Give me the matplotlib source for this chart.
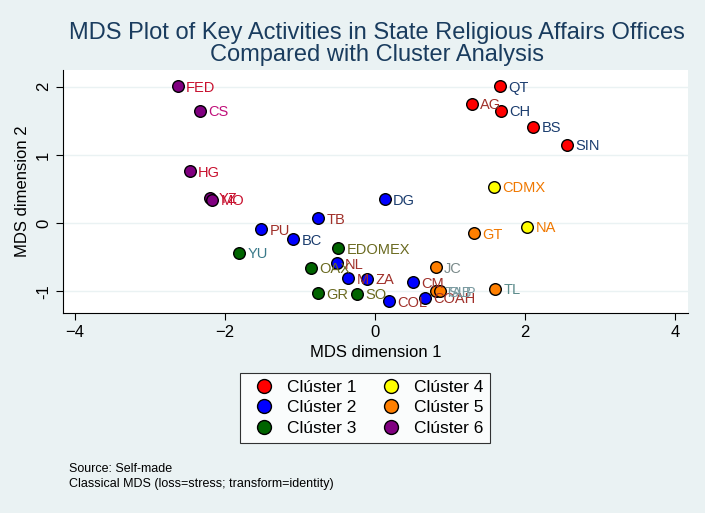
import matplotlib
matplotlib.use("Agg")
import matplotlib.pyplot as plt
from matplotlib.lines import Line2D
plt.rcParams['font.family'] = ['Liberation Sans', 'DejaVu Sans']

labels = ["FED","CS","HG","YZ","MO","PU","BC","TB","DG","YU","EDOMEX","OAX","NL","M","ZA","CM","JC","GR","SO","COL","COAH","TAB","SLP","TL","QT","AG","CH","BS","SIN","CDMX","NA","GT"]
dim1 = [-2.63,-2.33,-2.47,-2.20,-2.17,-1.52,-1.09,-0.76,0.13,-1.81,-0.49,-0.85,-0.51,-0.36,-0.11,0.51,0.81,-0.76,-0.24,0.19,0.67,0.81,0.86,1.60,1.67,1.29,1.68,2.11,2.56,1.59,2.03,1.32]
dim2 = [2.01,1.65,0.76,0.37,0.34,-0.09,-0.24,0.07,0.35,-0.44,-0.37,-0.66,-0.59,-0.81,-0.82,-0.87,-0.65,-1.03,-1.04,-1.15,-1.10,-1.00,-1.00,-0.97,2.01,1.75,1.65,1.41,1.15,0.53,-0.06,-0.15]
cluster = [6,6,6,6,6,2,2,2,2,3,3,3,2,2,2,2,5,3,3,2,2,5,5,5,1,1,1,1,1,4,4,5]
label_colors = ["#c8102e","#c0107a","#c8102e","#c8102e","#c8102e","#a0302a","#1a3c6e","#a0302a","#1a3c6e","#3a7a8a","#6a6a20","#6a6a20","#a0302a","#a0302a","#a0302a","#a0302a","#7a8a8a","#6a6a20","#6a6a20","#a0302a","#a0302a","#7a9aa0","#7a9aa0","#5a8a8a","#1a3c6e","#a0302a","#1a3c6e","#1a3c6e","#1a3c6e","#f07800","#f07800","#f07800"]

cluster_names = ["Clúster 1","Clúster 2","Clúster 3","Clúster 4","Clúster 5","Clúster 6"]
cluster_colors = ["#ff0000","#0000ff","#006400","#ffff00","#ff7f00","#800080"]

fig = plt.figure(figsize=(7.05,5.13), dpi=100, facecolor="#eaf2f3")
ax = fig.add_axes([0.089,0.39,0.887,0.474])
ax.set_facecolor("white")
for x,y,c,l,lc in zip(dim1,dim2,cluster,labels,label_colors):
    ax.scatter(x,y,s=70,color=cluster_colors[c-1],edgecolor="black",linewidth=1,zorder=3)
    ax.annotate(l,(x,y),xytext=(6,-1),textcoords="offset points",va="center",ha="left",fontsize=10.5,color=lc,zorder=4)
ax.set_xlim(-4.16,4.17)
ax.set_ylim(-1.32,2.25)
ax.set_xticks([-4,-2,0,2,4])
ax.set_yticks([-1,0,1,2])
ax.set_yticklabels(["-1","0","1","2"],rotation=90,va="center")
ax.tick_params(labelsize=12,length=5)
ax.grid(axis="y",color="#eaf2f3",linewidth=1)
ax.set_axisbelow(True)
for s in ["top","right"]:
    ax.spines[s].set_visible(False)
ax.set_xlabel("MDS dimension 1",fontsize=12)
ax.set_ylabel("MDS dimension 2",fontsize=12)
fig.text(0.535,0.958,"MDS Plot of Key Activities in State Religious Affairs Offices\nCompared with Cluster Analysis",ha="center",va="top",fontsize=17,color="#1a3c5e",linespacing=1.0)

handles=[Line2D([],[],marker="o",linestyle="",markersize=10,markerfacecolor=c,markeredgecolor="black") for c in cluster_colors]
leg=fig.legend(handles,cluster_names,ncol=2,loc="center",bbox_to_anchor=(0.518,0.205),fontsize=12.5,frameon=True,fancybox=False,edgecolor="black",columnspacing=1.0,handletextpad=0.3,labelspacing=0.3)
leg.get_frame().set_linewidth(0.8)
fig.text(0.098,0.079,"Source: Self-made",fontsize=9)
fig.text(0.098,0.050,"Classical MDS (loss=stress; transform=identity)",fontsize=9)
fig.savefig("out.png",dpi=100,facecolor=fig.get_facecolor())
